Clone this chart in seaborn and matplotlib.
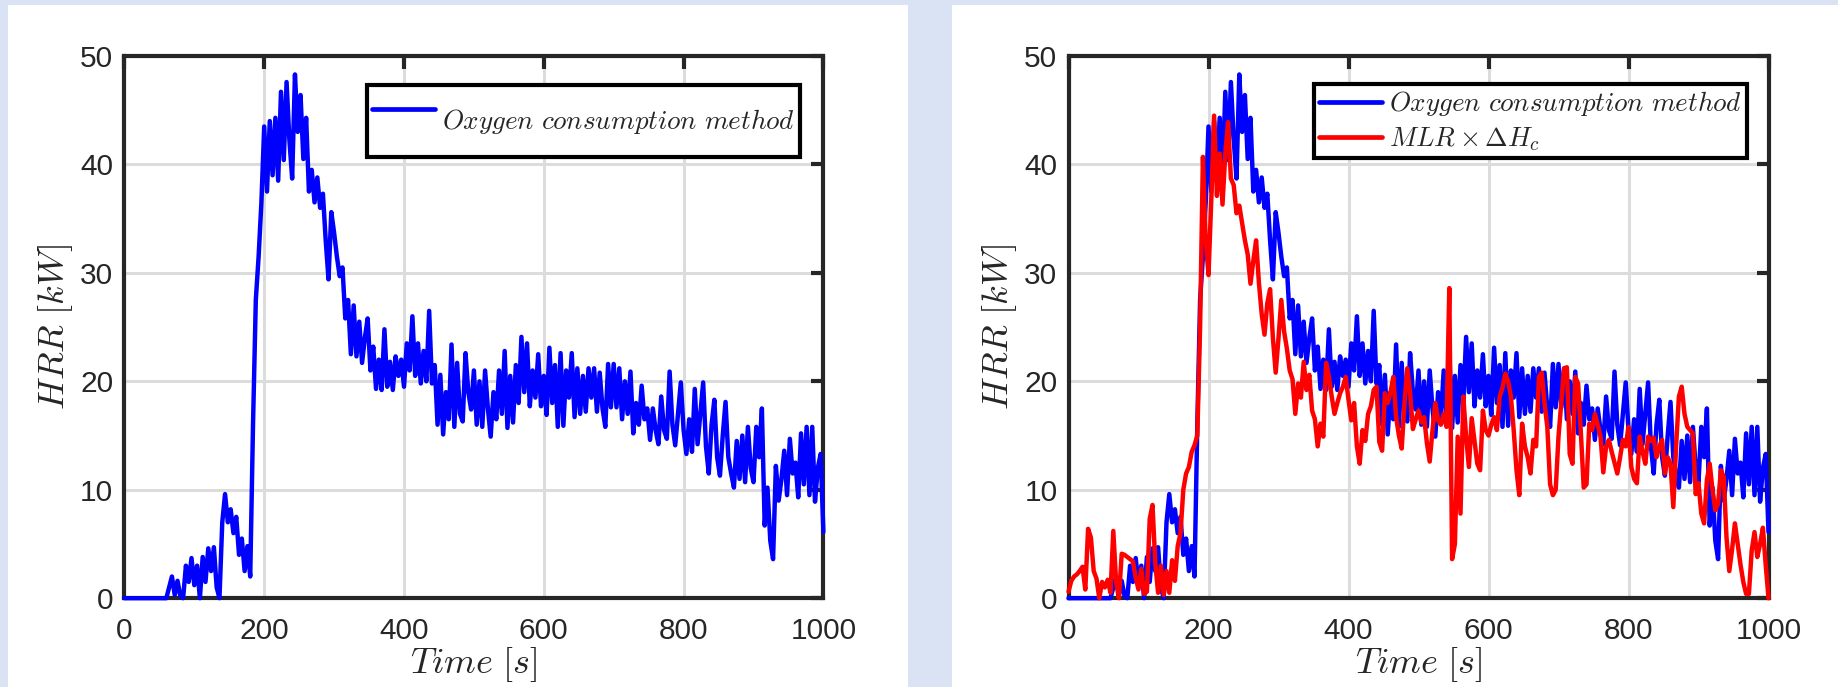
import numpy as np
import pandas as pd
import matplotlib
matplotlib.use('Agg')
import matplotlib.pyplot as plt
import seaborn as sns
from matplotlib.patches import Rectangle

# time axis, 4 s steps
time_s = np.arange(0, 1001, 4)

# HRR from oxygen consumption (kW)
hrr_oxygen = [
    0, 0, 0, 0, 0, 0, 0, 0, 0, 0, 0, 0, 0, 0, 0, 0, 1.0, 2.0, 0.3, 1.6, 0.2, 0.0, 3.0, 1.5, 3.7,
    1.2, 3.0, 0.0, 3.8, 1.5, 4.6, 2.5, 4.7, 1.0, 0.0, 7.0, 9.6, 7.0, 8.2, 6.0, 7.5, 4.0, 5.5, 2.5, 4.8,
    2.0, 16.0, 27.5, 31.5, 36.5,
    43.5, 37.5, 44.0, 39.0, 44.3, 38.5, 46.7, 40.4, 47.6, 42.3, 38.7, 48.3, 43.0, 46.4, 40.5, 44.3,
    37.5, 39.5, 36.5, 38.8, 36.0, 37.3, 33.0, 29.4, 35.6,
    33.7, 31.5, 29.7, 30.5, 25.8, 27.5, 22.5, 27.0, 22.3, 25.5, 21.7, 24.0, 25.8, 21.0, 23.2, 19.3,
    22.0, 19.2, 24.8, 19.5, 21.8, 19.2, 22.3, 20.5, 22.0,
    19.5, 23.5, 21.0, 26.0, 20.5, 23.5, 19.8, 22.8, 20.0, 26.5, 19.8, 21.5, 16.0, 20.6, 15.1, 19.0,
    16.5, 23.4, 15.8, 21.7, 17.0, 16.3, 22.6, 19.0, 17.4,
    21.0, 16.0, 20.0, 15.8, 21.0, 17.5, 14.9, 19.0, 16.5, 21.0, 17.0, 22.8, 15.7, 20.5, 16.2, 21.5,
    18.0, 24.1, 19.0, 23.5, 17.7, 21.0, 18.5, 22.5, 17.7,
    20.5, 16.9, 23.1, 18.0, 21.5, 15.8, 22.6, 15.9, 21.0, 18.5, 22.6, 16.7, 21.2, 17.0, 20.5, 17.2,
    21.2, 18.5, 21.2, 17.2, 20.8, 17.5, 15.8, 21.6, 17.6,
    21.6, 17.6, 21.2, 16.5, 20.0, 17.0, 20.9, 15.2, 18.0, 16.0, 19.6, 16.5, 17.5, 14.6, 17.5, 15.5,
    14.2, 18.6, 15.5, 14.7, 20.9, 16.0, 14.1, 17.0, 19.9,
    15.5, 13.3, 16.5, 13.5, 19.3, 14.2, 17.0, 19.9, 14.0, 11.5, 16.0, 18.3, 13.0, 11.3, 15.0, 18.1,
    13.0, 11.5, 10.2, 14.5, 11.0, 15.0, 10.7, 15.8, 12.0,
    10.7, 15.8, 13.0, 17.5, 6.7, 10.2, 5.3, 3.6, 12.2, 9.0, 11.0, 13.6, 9.5, 14.7, 11.5, 12.5,
    9.3, 15.2, 10.5, 15.8, 9.5, 15.8, 8.9, 12.0, 13.3,
    6.1,
]

# HRR from mass loss rate x heat of combustion (kW)
hrr_mlr = [
    0.6, 1.6, 2.0, 2.2, 2.5, 2.9, 0.8, 6.4, 5.6, 2.5, 1.8, 0.0, 1.5, 1.0, 1.7, 0.5, 6.2, 1.5, 0.0,
    4.1, 4.0, 3.8, 3.6, 3.4, 1.9,
    0.8, 2.7, 0.4, 0.6, 7.3, 8.6, 3.2, 0.5, 3.0, 0.3, 2.5, 0.5, 3.5, 1.6, 4.8, 6.0, 10.0, 11.5, 12.1,
    13.5, 14.1, 15.0, 25.0, 40.7, 33.0,
    29.8, 36.8, 44.5, 37.1, 41.0, 36.3, 41.0, 43.9, 38.7, 38.1, 35.5, 36.2, 34.6, 33.0, 31.7, 29.0,
    31.1, 33.0, 29.1, 26.2, 24.3, 27.2, 28.5, 24.0, 20.8,
    24.0, 27.5, 24.6, 23.0, 21.0, 20.2, 17.0, 19.8, 18.5, 21.8, 19.2, 20.6, 17.3, 16.5, 14.0, 16.1,
    14.9, 21.7, 20.4, 18.6, 17.0, 18.0, 18.9, 19.5, 20.4,
    18.3, 16.4, 18.0, 14.0, 12.4, 15.5, 14.5, 17.0, 17.7, 19.2, 19.5, 14.4, 13.6, 18.9, 18.0, 19.0,
    20.4, 16.7, 15.0, 13.8, 18.0, 21.2, 18.9, 15.6, 16.5,
    17.3, 16.2, 16.7, 14.3, 12.6, 15.5, 18.0, 16.4, 16.0, 17.0, 15.8, 28.6, 3.6, 5.0, 14.9, 7.8,
    18.6, 14.9, 12.1, 16.6, 14.5, 12.4, 11.8, 17.3, 15.5,
    15.0, 16.0, 16.7, 15.5, 18.6, 19.4, 20.7, 20.0, 18.6, 15.5, 11.8, 9.5, 16.1, 14.0, 13.0, 11.5,
    14.6, 14.0, 20.4, 20.8, 18.0, 15.8, 10.5, 9.5, 10.0,
    14.9, 18.0, 21.2, 21.3, 13.3, 12.4, 20.4, 19.8, 15.2, 10.2, 10.5, 16.1, 15.5, 17.0, 16.0, 14.9,
    11.6, 14.0, 14.6, 13.5, 12.5, 11.5, 13.0, 14.6, 14.0,
    15.8, 12.1, 11.0, 10.6, 14.9, 13.5, 12.4, 14.9, 14.5, 14.8, 13.0, 14.0, 14.6, 11.5, 13.0, 12.4,
    8.4, 14.0, 18.6, 19.5, 17.0, 15.8, 15.5, 15.2, 9.6,
    10.6, 7.8, 6.9, 10.9, 12.4, 10.0, 8.1, 8.7, 11.8, 11.2, 5.6, 2.5, 4.5, 6.9, 5.0, 3.1,
    1.5, 0.4, 0.4, 4.4, 6.1, 3.8, 5.0, 6.5, 3.1,
    0.0,
]

label_oxygen = r'$Oxygen\ consumption\ method$'
label_mlr = r'$MLR \times \Delta H_c$'

df = pd.DataFrame({'Time': time_s, 'Oxygen': hrr_oxygen, 'MLR': hrr_mlr})

sns.set_theme(style='white')
plt.rcParams['font.family'] = ['Liberation Sans', 'DejaVu Sans']
plt.rcParams['mathtext.fontset'] = 'cm'

W, H = 1838, 687
fig = plt.figure(figsize=(W / 100, H / 100), dpi=100, facecolor='#dae3f3')
fig.add_artist(Rectangle((8 / W, 0), 900 / W, 682 / H, transform=fig.transFigure,
                         facecolor='white', edgecolor='none', zorder=0))
fig.add_artist(Rectangle((952 / W, 0), 886 / W, 682 / H, transform=fig.transFigure,
                         facecolor='white', edgecolor='none', zorder=0))

ax1 = fig.add_axes([124.4 / W, 88.8 / H, 699 / W, 542.2 / H])
ax2 = fig.add_axes([1068.5 / W, 88.8 / H, 700 / W, 542.2 / H])

dark = '#262626'


def style_axes(ax):
    ax.set_xlim(0, 1000)
    ax.set_ylim(0, 50)
    ax.set_xticks(range(0, 1001, 200))
    ax.set_yticks(range(0, 51, 10))
    ax.set_axisbelow(True)
    ax.grid(True, color='#dcdcdc', lw=2.2)
    ax.tick_params(direction='in', length=9, width=3.0, top=True, right=True,
                   labelsize=21.5, color=dark, labelcolor=dark)
    ax.tick_params(axis='x', pad=13.5)
    ax.tick_params(axis='y', pad=8)
    for s in ax.spines.values():
        s.set_linewidth(3.0)
        s.set_color(dark)
        s.set_zorder(2.5)
    ax.set_xlabel(r'$Time\ [s]$', fontsize=26, color=dark, labelpad=0)
    ax.set_ylabel(r'$HRR\ [kW]$', fontsize=26, color=dark, labelpad=4)


line_kw = dict(lw=3.2, estimator=None, zorder=3, clip_on=False)
sns.lineplot(data=df, x='Time', y='Oxygen', ax=ax1, color='#0000ff',
             label=label_oxygen, **line_kw)
sns.lineplot(data=df, x='Time', y='Oxygen', ax=ax2, color='#0000ff',
             label=label_oxygen, **line_kw)
sns.lineplot(data=df, x='Time', y='MLR', ax=ax2, color='#ff0000',
             label=label_mlr, **line_kw)

for ax in (ax1, ax2):
    style_axes(ax)

leg_kw = dict(fontsize=19.5, frameon=True, fancybox=False, framealpha=1,
              edgecolor='black', handlelength=2.35, handletextpad=0.25,
              borderaxespad=0, borderpad=0.18, labelspacing=0.28,
              bbox_transform=fig.transFigure, loc='upper right')
leg1 = ax1.legend(bbox_to_anchor=(800 / W, 1 - 85 / H), handleheight=3.15, **leg_kw)
leg2 = ax2.legend(bbox_to_anchor=(1747 / W, 1 - 84.3 / H), **leg_kw)
for leg in (leg1, leg2):
    leg.get_frame().set_linewidth(3.0)
    leg.set_zorder(5)
    for line in leg.get_lines():
        line.set_linewidth(3.4)

fig.savefig('out.png', dpi=100, facecolor=fig.get_facecolor())
